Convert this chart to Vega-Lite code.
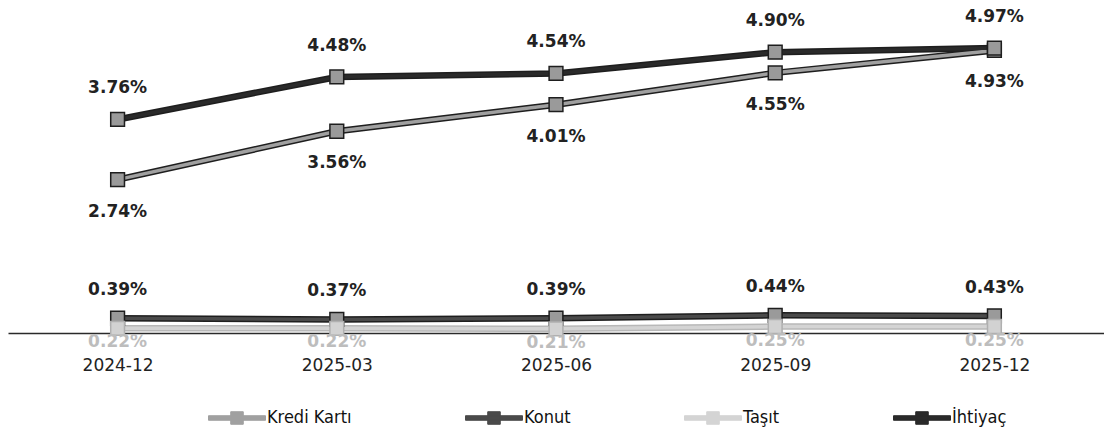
{
  "$schema": "https://vega.github.io/schema/vega-lite/v6.json",
  "width": 1096,
  "height": 333,
  "padding": {"left": 8, "top": 0, "right": 0, "bottom": 0},
  "background": "white",
  "config": {"view": {"stroke": null}},
  "data": {
    "values": [
      {"period": "2024-12", "series": "Kredi Kartı", "value": 0.0274},
      {"period": "2025-03", "series": "Kredi Kartı", "value": 0.0356},
      {"period": "2025-06", "series": "Kredi Kartı", "value": 0.0401},
      {"period": "2025-09", "series": "Kredi Kartı", "value": 0.0455},
      {"period": "2025-12", "series": "Kredi Kartı", "value": 0.0493},
      {"period": "2024-12", "series": "Konut", "value": 0.0039},
      {"period": "2025-03", "series": "Konut", "value": 0.0037},
      {"period": "2025-06", "series": "Konut", "value": 0.0039},
      {"period": "2025-09", "series": "Konut", "value": 0.0044},
      {"period": "2025-12", "series": "Konut", "value": 0.0043},
      {"period": "2024-12", "series": "Taşıt", "value": 0.0022},
      {"period": "2025-03", "series": "Taşıt", "value": 0.0022},
      {"period": "2025-06", "series": "Taşıt", "value": 0.0021},
      {"period": "2025-09", "series": "Taşıt", "value": 0.0025},
      {"period": "2025-12", "series": "Taşıt", "value": 0.0025},
      {"period": "2024-12", "series": "İhtiyaç", "value": 0.0376},
      {"period": "2025-03", "series": "İhtiyaç", "value": 0.0448},
      {"period": "2025-06", "series": "İhtiyaç", "value": 0.0454},
      {"period": "2025-09", "series": "İhtiyaç", "value": 0.0490},
      {"period": "2025-12", "series": "İhtiyaç", "value": 0.0497}
    ]
  },
  "encoding": {
    "x": {
      "field": "period",
      "type": "ordinal",
      "sort": null,
      "scale": {"type": "point", "padding": 0.5},
      "axis": {
        "title": null,
        "labelAngle": 0,
        "ticks": false,
        "grid": false,
        "domainColor": "#2a2a2a",
        "domainWidth": 1.5,
        "labelFont": "DejaVu Sans",
        "labelFontSize": 17,
        "labelColor": "#222222",
        "labelPadding": 24
      }
    },
    "y": {
      "field": "value",
      "type": "quantitative",
      "scale": {"domain": [0.0014, 0.05785], "nice": false, "zero": false},
      "axis": null
    }
  },
  "layer": [
    {
      "mark": {"type": "line", "strokeWidth": 6.5},
      "encoding": {
        "detail": {"field": "series", "type": "nominal"},
        "color": {
          "condition": {"test": "datum.series === 'Taşıt'", "value": "#b8b8b8"},
          "value": "#1e1e1e"
        }
      }
    },
    {
      "mark": {"type": "line", "strokeWidth": 3.5},
      "encoding": {
        "color": {
          "field": "series",
          "type": "nominal",
          "scale": {
            "domain": ["Kredi Kartı", "Konut", "Taşıt", "İhtiyaç"],
            "range": ["#a0a0a0", "#4a4a4a", "#d4d4d4", "#2a2a2a"]
          },
          "legend": {
            "orient": "none",
            "legendX": 200,
            "legendY": 389,
            "direction": "horizontal",
            "columns": 4,
            "title": null,
            "padding": 0,
            "symbolType": "M-1,-0.08H1V0.08H-1Z M-0.22,-0.22H0.22V0.22H-0.22Z",
            "symbolSize": 3249,
            "symbolStrokeWidth": 1,
            "labelFont": "Liberation Sans Narrow, DejaVu Sans Condensed, sans-serif",
            "labelFontSize": 18,
            "labelColor": "#111111",
            "labelOffset": 1,
            "labelLimit": 200,
            "columnPadding": 111,
            "encode": {
              "symbols": {
                "update": {
                  "fill": {"scale": "color", "field": "value"},
                  "stroke": {"value": "#2a2a2a"},
                  "strokeWidth": {"value": 1},
                  "opacity": {"value": 1}
                }
              }
            }
          }
        }
      }
    },
    {
      "mark": {"type": "point", "shape": "square", "filled": true, "size": 190, "strokeWidth": 1.5, "opacity": 1},
      "encoding": {
        "detail": {"field": "series", "type": "nominal"},
        "fill": {
          "condition": {"test": "datum.series === 'Taşıt'", "value": "#d2d2d2"},
          "value": "#9a9a9a"
        },
        "stroke": {
          "condition": {"test": "datum.series === 'Taşıt'", "value": "#b0b0b0"},
          "value": "#1e1e1e"
        }
      }
    },
    {
      "transform": [{"filter": "datum.series === 'İhtiyaç'"}],
      "mark": {"type": "text", "dy": -31, "font": "DejaVu Sans", "fontWeight": "bold", "fontSize": 17, "color": "#222222"},
      "encoding": {"text": {"field": "value", "type": "quantitative", "format": ".2%"}}
    },
    {
      "transform": [{"filter": "datum.series === 'Kredi Kartı'"}],
      "mark": {"type": "text", "dy": 32, "font": "DejaVu Sans", "fontWeight": "bold", "fontSize": 17, "color": "#222222"},
      "encoding": {"text": {"field": "value", "type": "quantitative", "format": ".2%"}}
    },
    {
      "transform": [{"filter": "datum.series === 'Konut'"}],
      "mark": {"type": "text", "dy": -28, "font": "DejaVu Sans", "fontWeight": "bold", "fontSize": 17, "color": "#222222"},
      "encoding": {"text": {"field": "value", "type": "quantitative", "format": ".2%"}}
    },
    {
      "transform": [{"filter": "datum.series === 'Taşıt'"}],
      "mark": {"type": "text", "dy": 14, "font": "DejaVu Sans", "fontWeight": "bold", "fontSize": 17, "color": "#bdbdbd"},
      "encoding": {"text": {"field": "value", "type": "quantitative", "format": ".2%"}}
    }
  ]
}
